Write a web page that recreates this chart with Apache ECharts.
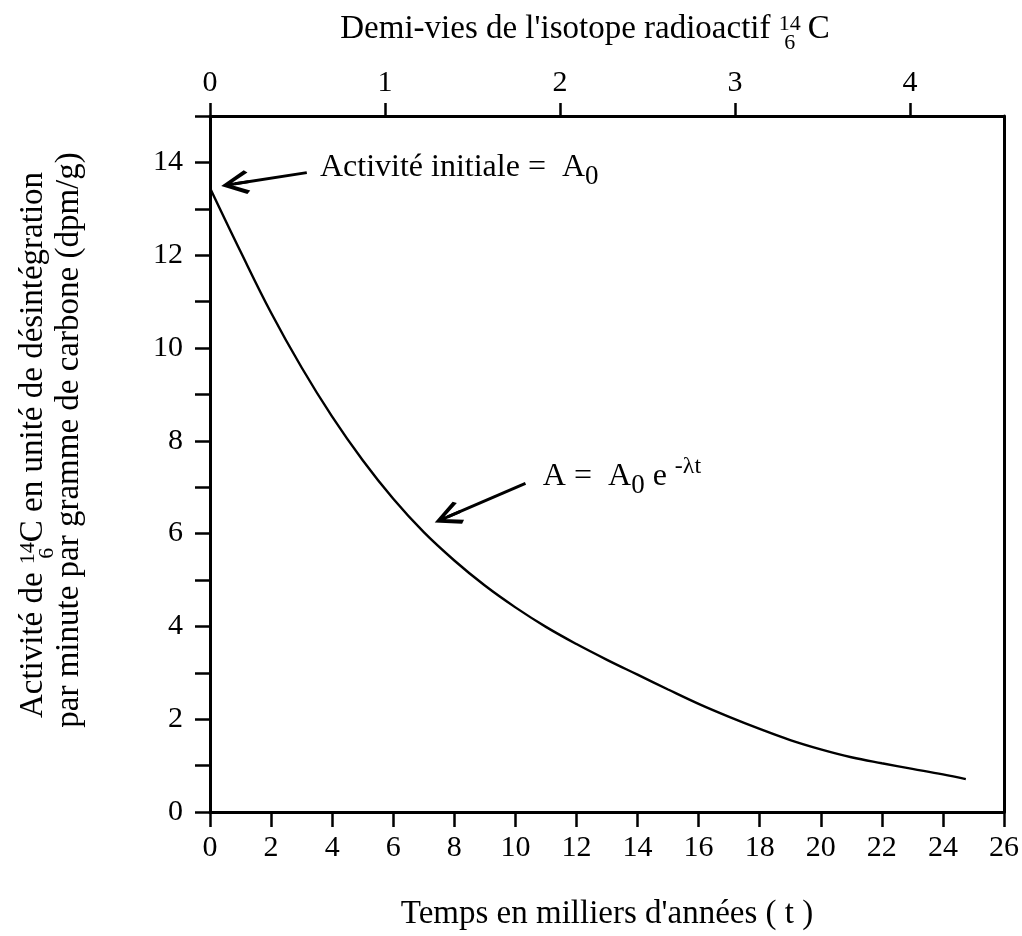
<!DOCTYPE html>
<html>
<head>
<meta charset="utf-8">
<script src="https://cdn.jsdelivr.net/npm/echarts@6/dist/echarts.min.js"></script>
<style>
  html, body { margin: 0; padding: 0; background: #fff; }
  #chart { width: 1022px; height: 936px; }
</style>
</head>
<body>
<div id="chart"></div>
<script>
// Carbon-14 activity (dpm per gram of carbon) versus time in thousands of years
const years    = [0, 1, 2, 3, 4, 5, 6, 7, 8, 9, 10, 11, 12, 13, 14, 15, 16, 17, 18, 19, 20, 21, 22, 23, 24, 24.75];
const activity = [13.45, 12.08, 10.76, 9.58, 8.52, 7.58, 6.75, 6.03, 5.42, 4.88, 4.41, 3.99, 3.62, 3.28, 2.96, 2.64, 2.33, 2.05, 1.79, 1.55, 1.35, 1.18, 1.05, 0.93, 0.81, 0.71];

// Half-life of 14C in thousands of years (top scale counts half-lives)
const HALF_LIFE_KYR = 5.73;
const halfLifeLabels = ['0', '1', '2', '3', '4'];

// Arrow annotations: [tail, head] in (thousands of years, dpm/g)
const arrowInitial = [[3.17, 13.78], [0.82, 13.54]];
const arrowCurve   = [[10.33, 7.08], [7.78, 6.36]];
// Annotation text anchors
const noteInitial = [3.6, 13.88];
const noteCurve   = [10.9, 7.23];

const SERIF = '"Liberation Serif", "Times New Roman", serif';
const FS = 30;        // tick labels
const FS_TITLE = 33;  // axis titles
const FS_NOTE = 32;   // annotations

const chart = echarts.init(document.getElementById('chart'), null, { renderer: 'canvas' });

const measureCtx = document.createElement('canvas').getContext('2d');
function textWidth(str, size) {
  measureCtx.font = size + 'px ' + SERIF;
  return measureCtx.measureText(str).width;
}

// Lays out a line of text in which isotope symbols carry a stacked
// mass number (above) and atomic number (below).
function isotopeLine(parts, size, cx, cy, rotation) {
  const small = Math.round(size * 0.68);
  const children = [];
  let x = 0;
  const txt = (s, px, py, fs, align) => ({
    type: 'text', x: px, y: py, silent: true,
    style: {
      text: s, font: fs + 'px ' + SERIF, fill: '#000',
      align: align, textAlign: align, verticalAlign: 'middle', textVerticalAlign: 'middle'
    }
  });
  parts.forEach(p => {
    if (typeof p === 'string') {
      children.push(txt(p, x, 0, size, 'left'));
      x += textWidth(p, size);
    } else {
      const w = Math.max(textWidth(p.sup, small), textWidth(p.sub, small));
      children.push(txt(p.sup, x + w / 2, -size * 0.14, small, 'center'));
      children.push(txt(p.sub, x + w / 2, size * 0.42, small, 'center'));
      x += w + (p.gap || 0);
    }
  });
  children.forEach(c => { c.x -= x / 2; });
  return { type: 'group', x: cx, y: cy, rotation: rotation || 0, children };
}

// Open chevron arrowhead with a short shaft to the tip
const ARROW_HEAD = 'path://M50,0 L100,88 L88,100 L50,30 L12,100 L0,88 Z M44,10 L56,10 L56,100 L44,100 Z';

const option = {
  animation: false,
  backgroundColor: '#fff',
  grid: { left: 210, right: 17, top: 116, bottom: 121, containLabel: false },
  xAxis: [
    {
      type: 'value', position: 'bottom', min: 0, max: 26, interval: 2,
      name: "Temps en milliers d'années ( t )",
      nameLocation: 'middle', nameGap: 86,
      nameTextStyle: { fontFamily: SERIF, fontSize: FS_TITLE, color: '#000' },
      axisLine: { show: true, onZero: false, lineStyle: { color: '#000', width: 3 } },
      axisTick: { show: true, length: 15, lineStyle: { color: '#000', width: 2.5 } },
      axisLabel: { margin: 21, fontFamily: SERIF, fontSize: FS, color: '#000', hideOverlap: false, showMinLabel: true, showMaxLabel: true },
      splitLine: { show: false }
    },
    {
      type: 'value', position: 'top', min: 0, max: 26 / HALF_LIFE_KYR, interval: 1,
      axisLine: { show: true, onZero: false, lineStyle: { color: '#000', width: 3 } },
      axisTick: { show: true, length: 13, lineStyle: { color: '#000', width: 2.5 } },
      axisLabel: {
        margin: 18, fontFamily: SERIF, fontSize: FS, color: '#000',
        showMaxLabel: false,
        formatter: v => halfLifeLabels[Math.round(v)] ?? ''
      },
      splitLine: { show: false }
    }
  ],
  yAxis: [
    {
      type: 'value', position: 'left', min: 0, max: 15, interval: 1,
      axisLine: { show: true, onZero: false, lineStyle: { color: '#000', width: 3 } },
      axisTick: { show: true, length: 15, lineStyle: { color: '#000', width: 2.5 } },
      axisLabel: {
        margin: 27, fontFamily: SERIF, fontSize: FS, color: '#000',
        formatter: v => (v % 2 === 0 && v < 15 ? String(v) : '')
      },
      splitLine: { show: false }
    },
    {
      type: 'value', position: 'right', min: 0, max: 15,
      axisLine: { show: true, onZero: false, lineStyle: { color: '#000', width: 3 } },
      axisTick: { show: false }, axisLabel: { show: false }, splitLine: { show: false }
    }
  ],
  series: [
    {
      type: 'line',
      xAxisIndex: 0, yAxisIndex: 0,
      data: years.map((t, i) => [t, activity[i]]),
      smooth: 0.4,
      showSymbol: false,
      lineStyle: { color: '#000', width: 2.4 },
      markLine: {
        silent: true, animation: false,
        symbol: ['none', ARROW_HEAD], symbolSize: [24, 28],
        label: { show: false },
        lineStyle: { color: '#000', width: 3, type: 'solid' },
        data: [
          [{ coord: arrowInitial[0] }, { coord: arrowInitial[1] }],
          [{ coord: arrowCurve[0] }, { coord: arrowCurve[1] }]
        ]
      },
      markPoint: {
        silent: true, symbol: 'circle', symbolSize: 0,
        label: {
          show: true, position: 'right', distance: 0,
          fontFamily: SERIF, fontSize: FS_NOTE, color: '#000',
          rich: {
            sub: { fontFamily: SERIF, fontSize: 27, color: '#000', padding: [18, 0, 0, 0] },
            sup: { fontFamily: SERIF, fontSize: 24, color: '#000', padding: [0, 0, 20, 0] }
          }
        },
        data: [
          { coord: noteInitial, label: { formatter: 'Activité initiale =  A{sub|0}' } },
          { coord: noteCurve, label: { formatter: 'A =  A{sub|0} e {sup|-λt}' } }
        ]
      }
    }
  ],
  graphic: [
    isotopeLine(["Demi-vies de l'isotope radioactif ", { sup: '14', sub: '6', gap: 7 }, 'C'], FS_TITLE, 585, 29, 0),
    isotopeLine(['Activité de ', { sup: '14', sub: '6' }, 'C en unité de désintégration'], FS_TITLE, 33, 445, Math.PI / 2),
    isotopeLine(['par minute par gramme de carbone (dpm/g)'], FS_TITLE, 69, 440, Math.PI / 2)
  ]
};

chart.setOption(option);
</script>
</body>
</html>
